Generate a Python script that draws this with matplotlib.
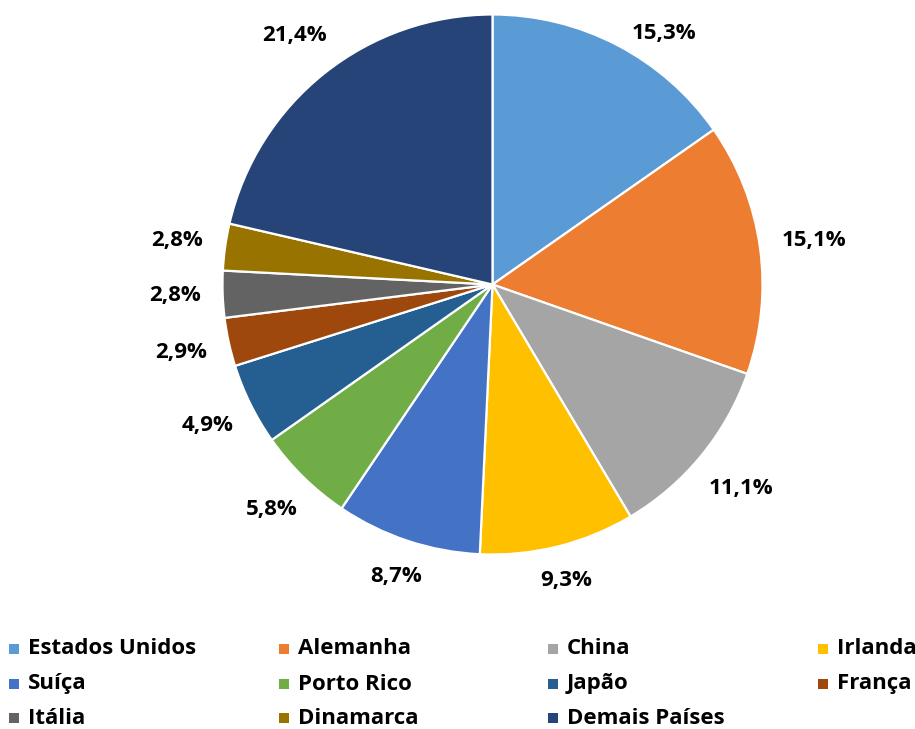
import matplotlib.pyplot as plt
import matplotlib.patches as mpatches
import numpy as np

plt.rcParams['font.family'] = ['Open Sans', 'DejaVu Sans']

paises = ['Estados Unidos', 'Alemanha', 'China', 'Irlanda', 'Suíça', 'Porto Rico',
          'Japão', 'França', 'Itália', 'Dinamarca', 'Demais Países']
valores = [15.3, 15.1, 11.1, 9.3, 8.7, 5.8, 4.9, 2.9, 2.8, 2.8, 21.4]
cores = ['#5B9BD5', '#ED7D31', '#A5A5A5', '#FFC000', '#4472C4', '#70AD47',
         '#255E91', '#9E480E', '#636363', '#997300', '#264478']

W, H = 915, 729
fontsize = 16

fig = plt.figure(figsize=(W / 100, H / 100), dpi=100)
# pie: centre (492.5, 284.5) px, radius 270 px
R = 270
cx, cy = 492.5, 284.5
ax = fig.add_axes([(cx - R) / W, 1 - (cy + R) / H, 2 * R / W, 2 * R / H])

wedges, _ = ax.pie(valores, colors=cores, startangle=90, counterclock=False,
                   radius=1, wedgeprops=dict(edgecolor='white', linewidth=1.6))
ax.set_xlim(-1, 1); ax.set_ylim(-1, 1)
ax.set_aspect('equal')
ax.axis('off')

# percentage labels outside the slices (excel style, box touches r + gap)
renderer = fig.canvas.get_renderer()
gap = 22
top_y = 33  # labels may not go higher than this (px from top)
for w, v in zip(wedges, valores):
	ang = np.deg2rad((w.theta1 + w.theta2) / 2)
	txt = ax.text(0, 0, f'{v:.1f}%'.replace('.', ','), ha='center', va='center',
	              fontsize=fontsize, fontweight='bold')
	bb = txt.get_window_extent(renderer)
	d = R + gap + abs(np.cos(ang)) * bb.width / 2 + abs(np.sin(ang)) * bb.height * 0.35
	px, py = d * np.cos(ang), d * np.sin(ang)
	if cy - py < top_y:
		# slide down along the pie edge, like excel's best fit
		py = cy - top_y
		ybot = py - bb.height * 0.35
		px = np.sign(px) * (np.sqrt((R + 11) ** 2 - ybot ** 2) + bb.width / 2)
	txt.set_position((px / R, py / R))

# legend: 4 columns, 3 rows
col_x = [9, 279, 548, 818]
row_y = [649, 684, 718]
sq = 10
for i, (nome, cor) in enumerate(zip(paises, cores)):
	x0 = col_x[i % 4]; y0 = row_y[i // 4]
	fig.add_artist(mpatches.Rectangle((x0 / W, 1 - (y0 + sq / 2) / H), sq / W, sq / H,
	                                  transform=fig.transFigure, facecolor=cor, edgecolor='none'))
	fig.text((x0 + 19) / W, 1 - y0 / H, nome, ha='left', va='center',
	         fontsize=fontsize, fontweight='bold')

fig.savefig('out.png', dpi=100)
plt.close()
